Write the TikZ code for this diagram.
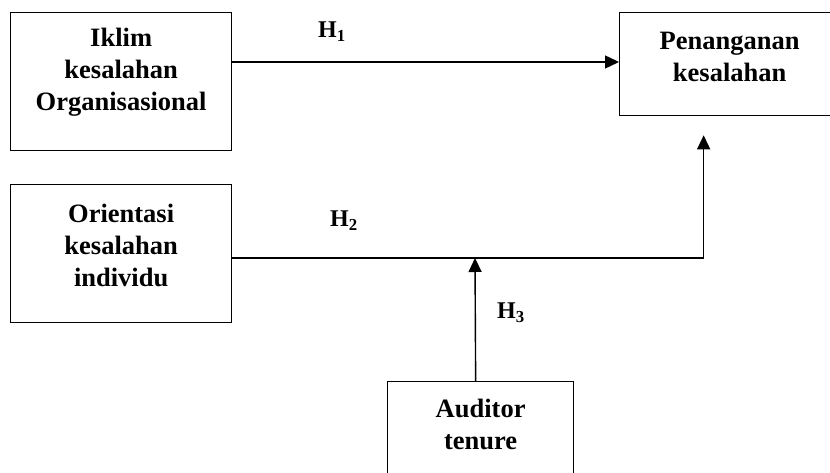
\documentclass[tikz,border=0pt]{standalone}
\usepackage{fontspec}
\setmainfont{Liberation Serif}
\usetikzlibrary{arrows.meta}
\begin{document}
\begin{tikzpicture}
[x=1pt, y=1pt, >={Triangle[length=14pt,width=13pt]}, line width=1.4pt,
 box/.style={draw, line width=1.3pt, align=center, anchor=north west, inner sep=0pt,
   font=\fontsize{26.5}{32}\selectfont\bfseries},
 hyp/.style={font=\fontsize{24}{28}\selectfont\bfseries}]
\useasboundingbox (0,0) rectangle (830,472);
\node[box, text width=221pt, text height=34pt, text depth=104pt] (iklim) at (10,460) {Iklim\\kesalahan\\Organisasional};
\node[box, text width=220pt, text height=37pt, text depth=66pt] (penanganan) at (619,460) {Penanganan\\kesalahan};
\node[box, text width=221pt, text height=38pt, text depth=100pt] (orientasi) at (10,288) {Orientasi\\kesalahan\\individu};
\node[box, text width=186pt, text height=36pt, text depth=69pt] (auditor) at (387,91) {Auditor\\tenure};
\node[hyp] (h1) at (332,440) {H\textsubscript{1}};
\node[hyp] (h2) at (344,251) {H\textsubscript{2}};
\node[hyp] (h3) at (511,159) {H\textsubscript{3}};
\coordinate (moderasi) at (475,214);
\draw[->] ([yshift=-50pt]iklim.north east) -- ([yshift=-50pt]penanganan.north west);
\draw[->] ([yshift=-74pt]orientasi.north east) -| ([xshift=-26pt,yshift=-19pt]penanganan.south);
\draw[->] ([xshift=-5pt]auditor.north) -- (moderasi);
\end{tikzpicture}
\end{document}
